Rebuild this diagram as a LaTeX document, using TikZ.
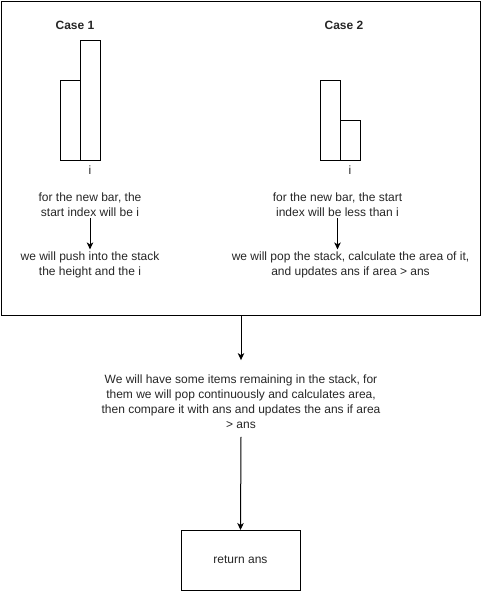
\documentclass[tikz,border=0pt]{standalone}
\usepackage{fontspec}
\setmainfont{Liberation Sans}
\usetikzlibrary{arrows.meta}
\begin{document}
\begin{tikzpicture}[x=1pt,y=-1pt,
  every node/.style={inner sep=0pt, outer sep=0pt},
  txt/.style={align=center, font=\fontsize{12}{15}\selectfont, text=black!85, inner sep=2pt},
  bar/.style={draw, line width=1pt, anchor=north west, minimum width=20pt},
  conn/.style={line width=1pt, -{Stealth[length=7pt,width=6.5pt,inset=2pt]}},
  box/.style={draw, line width=1pt}]
\useasboundingbox (0,0) rectangle (482,592);
\node[box, anchor=north west, minimum width=479pt, minimum height=314pt] (frame) at (1,1) {};
% Case 1
\node[txt, font=\fontsize{12}{15}\selectfont\bfseries] (h1) at (75,25) {Case 1};
\node[bar, minimum height=80pt] (b1a) at (60,80) {};
\node[bar, minimum height=120pt] (b1b) at (80,40) {};
\node[txt] (i1) at (90,170) {i};
\node[txt] (c1a) at (90,204.5) {for the new bar, the\\start index will be i};
\node[txt] (c1b) at (90,264.5) {we will push into the stack\\the height and the i};
\draw[conn] (c1a.south) -- (c1b.north);
% Case 2
\node[txt, font=\fontsize{12}{15}\selectfont\bfseries] (h2) at (344,25) {Case 2};
\node[bar, minimum height=80pt] (b2a) at (320.5,80) {};
\node[bar, minimum height=40pt] (b2b) at (340.5,120) {};
\node[txt] (i2) at (350,170) {i};
\node[txt] (c2a) at (337.5,204.5) {for the new bar, the start\\index will be less than i};
\node[txt] (c2b) at (350.5,264.5) {we will pop the stack, calculate the area of it,\\and updates ans if area > ans};
\draw[conn] (c2a.south) -- (c2a.south |- c2b.north);
% lower part
\node[txt] (mid) at (241,402) {We will have some items remaining in the stack, for\\them we will pop continuously and calculates area,\\then compare it with ans and updates the ans if area\\> ans};
\node[box, minimum width=119pt, minimum height=60pt, txt, inner sep=0pt] (ret) at (240.5,560) {return ans};
\draw[conn] (frame.south -| mid.north) -- ([yshift=13pt]mid.north);
\draw[conn] ([yshift=-6pt]mid.south) -- (ret.north);
\end{tikzpicture}
\end{document}
